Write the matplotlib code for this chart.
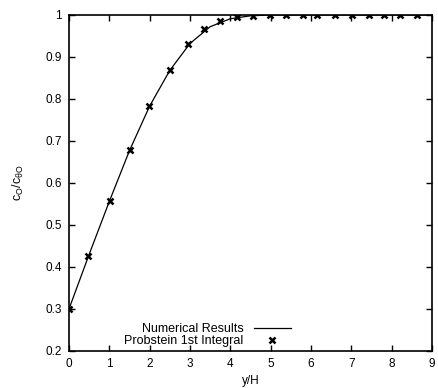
import matplotlib
matplotlib.use("Agg")
import matplotlib.pyplot as plt

plt.rcParams['font.family'] = ['Liberation Sans', 'DejaVu Sans']

# numerical solution (solid line)
num_x = [0, 0.5, 1.0, 1.5, 2.0, 2.5, 3.0, 3.5, 4.0, 4.5, 5.0, 6.0, 7.0, 8.0, 9.0]
num_y = [0.300, 0.430, 0.556, 0.677, 0.783, 0.868, 0.932, 0.972, 0.991, 0.998, 1.0, 1.0, 1.0, 1.0, 1.0]

# Probstein 1st integral (markers)
prob_x = [0, 0.47, 1.02, 1.51, 1.99, 2.51, 2.94, 3.35, 3.75, 4.16, 4.57, 4.99,
          5.38, 5.80, 6.16, 6.60, 7.01, 7.43, 7.82, 8.20, 8.63]
prob_y = [0.300, 0.426, 0.556, 0.678, 0.783, 0.869, 0.930, 0.966, 0.986, 0.995, 0.998, 0.999,
          1.0, 1.0, 1.0, 1.0, 1.0, 1.0, 1.0, 1.0, 1.0]

fig = plt.figure(figsize=(4.38, 3.88), dpi=100)
ax = fig.add_axes([0.1575, 0.0954, 0.8285, 0.8660])

ax.plot(num_x, num_y, color='black', lw=0.9, label='Numerical Results')
ax.plot(prob_x, prob_y, ls='none', marker='x', ms=4.0, mew=1.8, color='black',
        label='Probstein 1st Integral')

ax.set_xlim(0, 9)
ax.set_ylim(0.2, 1.0)
ax.set_xticks(range(10))
ax.set_yticks([0.2, 0.3, 0.4, 0.5, 0.6, 0.7, 0.8, 0.9, 1.0])
ax.set_yticklabels(['0.2', '0.3', '0.4', '0.5', '0.6', '0.7', '0.8', '0.9', '1'])
ax.tick_params(direction='in', top=True, right=True, length=4, width=1,
               labelsize=8.5, pad=5)
for s in ax.spines.values():
    s.set_linewidth(1.2)

ax.set_xlabel('y/H', fontsize=8.5, labelpad=4)
ax.set_ylabel(r'$\mathregular{c_O/c_{\theta O}}$', fontsize=9, labelpad=14)

ax.legend(loc='lower left', bbox_to_anchor=(0.125, -0.018), frameon=False,
          markerfirst=False, fontsize=9, handlelength=3.0, handletextpad=0.8,
          labelspacing=0.0, borderpad=0.3)

fig.savefig('out.png', dpi=100)
